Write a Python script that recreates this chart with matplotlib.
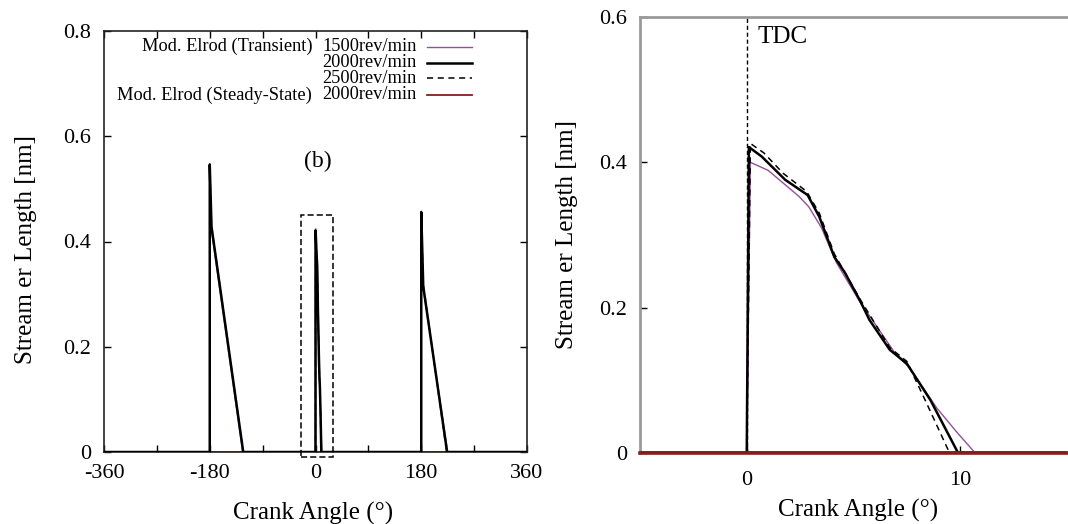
import matplotlib
matplotlib.use("Agg")
import matplotlib.pyplot as plt
from matplotlib.patches import Rectangle
from matplotlib.lines import Line2D
from matplotlib.ticker import FixedLocator, FixedFormatter

plt.rcParams['font.family'] = ['Liberation Serif', 'DejaVu Serif']

# ---------------- data ----------------
angle_1500 = [-360, -180, -180, -177, -124, 0, 0.17, 1.0, 2.45, 2.9, 3.5, 4.2, 5.3, 6.0,
              7.0, 7.6, 8.9, 9.8, 10.7, 180, 180, 183.4, 225, 360]
len_1500 = [0, 0, 0.53, 0.42, 0, 0, 0.400, 0.389, 0.353, 0.339, 0.310, 0.262, 0.208, 0.178,
            0.135, 0.118, 0.062, 0.030, 0, 0, 0.445, 0.310, 0, 0]

angle_2000 = [-360, -180, -180, -177, -123, 0, 0.1, 0.7, 1.8, 2.85, 3.4, 4.1, 4.6, 5.3, 5.75,
              6.7, 7.5, 8.6, 9.1, 9.9, 180, 180, 183.4, 224, 360]
len_2000 = [0, 0, 0.546, 0.428, 0, 0, 0.421, 0.408, 0.376, 0.355, 0.325, 0.270, 0.248, 0.210,
            0.183, 0.142, 0.123, 0.073, 0.045, 0, 0, 0.456, 0.315, 0, 0]

angle_2500 = [-360, -180, -180, -177, -123, 0, 0.17, 0.8, 1.7, 2.8, 3.4, 4.1, 5.3, 6.7, 7.5,
              8.4, 9.5, 180, 180, 183.4, 223, 360]
len_2500 = [0, 0, 0.55, 0.43, 0, 0, 0.426, 0.413, 0.385, 0.360, 0.330, 0.274, 0.212, 0.145,
            0.126, 0.070, 0, 0, 0.46, 0.32, 0, 0]

angle_steady = [-360, 360]
len_steady = [0, 0]

left_xticks = [-360, -180, 0, 180, 360]
left_xticklabels = ['-360', '-180', '0', '180', '360']
left_xminor = [-270, -90, 90, 270]
left_yticks = [0, 0.2, 0.4, 0.6, 0.8]
left_yticklabels = ['0', '0.2', '0.4', '0.6', '0.8']
right_xticks = [0, 10]
right_xticklabels = ['0', '10']
right_yticks = [0, 0.2, 0.4, 0.6]
right_yticklabels = ['0', '0.2', '0.4', '0.6']

legend_groups = ['Mod. Elrod (Transient)', '', '', 'Mod. Elrod (Steady-State)']
legend_speeds = ['1500rev/min', '2000rev/min', '2500rev/min', '2000rev/min']

PURPLE = '#94509a'
DARKRED = '#8b1c1c'
GRAY = '#9a9a9a'
TICK_FS = 16
LABEL_FS = 18

fig = plt.figure(figsize=(10.68, 5.24), dpi=100)
axL = fig.add_axes([104 / 1068, 1 - 452 / 524, 423 / 1068, 421 / 524])
axR = fig.add_axes([640 / 1068, 1 - 453 / 524, 427 / 1068, 436 / 524])

styles = [
    dict(color=PURPLE, lw=1.0),
    dict(color='black', lw=1.8),
    dict(color='black', lw=1.1, dashes=(4, 3)),
    dict(color=DARKRED, lw=1.3),
]

# ---------------- left panel ----------------
axL.plot(angle_steady, len_steady, **styles[3], zorder=1)
axL.plot(angle_1500, len_1500, **styles[0], zorder=3)
axL.plot(angle_2500, len_2500, color='#555555', lw=1.1, dashes=(4, 3), zorder=3)
axL.plot(angle_2000, len_2000, **styles[1], zorder=4)
axL.set_xlim(-360, 360)
axL.set_ylim(0, 0.8)
axL.xaxis.set_major_locator(FixedLocator(left_xticks))
axL.xaxis.set_major_formatter(FixedFormatter(left_xticklabels))
axL.xaxis.set_minor_locator(FixedLocator(left_xminor))
axL.yaxis.set_major_locator(FixedLocator(left_yticks))
axL.yaxis.set_major_formatter(FixedFormatter(left_yticklabels))
axL.tick_params(which='both', direction='in', length=5, width=1.0, labelsize=TICK_FS, pad=9,
                top=True, right=True)
for s in axL.spines.values():
    s.set_linewidth(1.2)
    s.set_color('#222222')
axL.set_xlabel('Crank Angle (°)', fontsize=LABEL_FS)
axL.xaxis.set_label_coords(0.494, -0.118)
axL.set_ylabel('Stream er Length [nm]', fontsize=LABEL_FS)
axL.yaxis.set_label_coords(-0.158, 0.48)

axL.add_patch(Rectangle((-25, -0.01), 55, 0.46, fill=False, ec='black', lw=1.1,
                        ls=(0, (4, 2)), clip_on=False, zorder=5))
axL.text(4, 0.553, '(b)', fontsize=17, ha='center', va='center')

rows_y = [0.963, 0.925, 0.888, 0.848]
for i in range(4):
    if legend_groups[i]:
        axL.text(0.492, rows_y[i], legend_groups[i], transform=axL.transAxes,
                 fontsize=13.2, ha='right', va='center')
    axL.text(0.515, rows_y[i], legend_speeds[i], transform=axL.transAxes,
             fontsize=13.2, ha='left', va='center')
    axL.add_line(Line2D([0.764, 0.870], [rows_y[i], rows_y[i]], transform=axL.transAxes,
                        **styles[i]))

# ---------------- right panel ----------------
axR.axvline(0, color='black', lw=1.0, dashes=(3, 2), zorder=2)
axR.plot(angle_1500, len_1500, **styles[0], zorder=3)
axR.plot(angle_2500, len_2500, **styles[2], zorder=3)
axR.plot(angle_2000, len_2000, **styles[1], zorder=4)
axR.plot(angle_steady, len_steady, color=DARKRED, lw=2.6, zorder=6)
axR.set_xlim(-5, 15)
axR.set_ylim(0, 0.6)
axR.xaxis.set_major_locator(FixedLocator(right_xticks))
axR.xaxis.set_major_formatter(FixedFormatter(right_xticklabels))
axR.yaxis.set_major_locator(FixedLocator(right_yticks))
axR.yaxis.set_major_formatter(FixedFormatter(right_yticklabels))
axR.tick_params(axis='y', direction='in', length=5, width=1.0, labelsize=TICK_FS, pad=9,
                color='black')
axR.tick_params(axis='x', direction='in', length=5, width=1.0, labelsize=TICK_FS, pad=13,
                color='black')
axR.spines['right'].set_visible(False)
axR.spines['bottom'].set_color(DARKRED)
axR.spines['bottom'].set_linewidth(2.6)
for k in ('left', 'top'):
    axR.spines[k].set_color(GRAY)
    axR.spines[k].set_linewidth(2.0)
axR.text(0.5, 0.572, 'TDC', fontsize=LABEL_FS, ha='left', va='center')
axR.set_xlabel('Crank Angle (°)', fontsize=LABEL_FS)
axR.xaxis.set_label_coords(0.51, -0.105)
axR.set_ylabel('Stream er Length [nm]', fontsize=LABEL_FS)
axR.yaxis.set_label_coords(-0.145, 0.5)

fig.savefig('out.png', dpi=100)
